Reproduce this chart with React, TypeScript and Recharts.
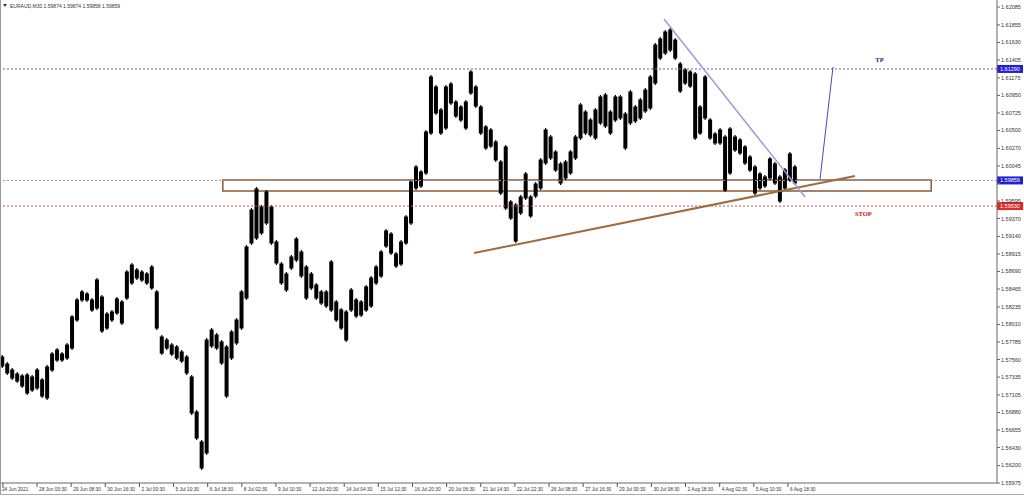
import {
  ComposedChart,
  Bar,
  XAxis,
  YAxis,
  ReferenceLine,
  ReferenceArea,
  ReferenceDot,
} from "recharts";

// EURAUD M30, one entry per ~9 bars (5 px bucket): high / low
const highs = [
  1.57618, 1.57528, 1.57451, 1.574, 1.57374, 1.57387, 1.57362, 1.57451, 1.57323, 1.5749,
  1.57657, 1.57708, 1.57657, 1.57772, 1.58132, 1.5835, 1.58453, 1.58427, 1.5835, 1.58607,
  1.58388, 1.5817, 1.58196, 1.58363, 1.58324, 1.58709, 1.58799, 1.58735, 1.58709, 1.58684,
  1.58773, 1.58453, 1.57875, 1.57836, 1.57772, 1.57747, 1.57682, 1.57618, 1.57362, 1.56912,
  1.56527, 1.57836, 1.57965, 1.57901, 1.57811, 1.57747, 1.57939, 1.58093, 1.58453, 1.5903,
  1.59505, 1.59775, 1.59544, 1.59736, 1.59544, 1.59094, 1.58812, 1.58684, 1.58902, 1.59133,
  1.58966, 1.58773, 1.58684, 1.58542, 1.58453, 1.58453, 1.58838, 1.58324, 1.58222, 1.58196,
  1.58478, 1.5835, 1.58324, 1.58517, 1.58632, 1.58773, 1.58966, 1.59236, 1.59197, 1.5894,
  1.59094, 1.59415, 1.59865, 1.60057, 1.59993, 1.60506, 1.61212, 1.61084, 1.60789, 1.61084,
  1.61122, 1.60891, 1.60827, 1.60891, 1.61277, 1.61084, 1.60827, 1.60571, 1.60532, 1.60378,
  1.60121, 1.60314, 1.59608, 1.59569, 1.59672, 1.59967, 1.59672, 1.59839, 1.60147, 1.60532,
  1.60442, 1.6025, 1.60096, 1.60121, 1.6025, 1.60442, 1.60853, 1.60763, 1.6066, 1.60789,
  1.60956, 1.60981, 1.60763, 1.60956, 1.60956, 1.60737, 1.6102, 1.60827, 1.60917, 1.61045,
  1.61212, 1.61623, 1.617, 1.6179, 1.61816, 1.61687, 1.61379, 1.61302, 1.61277, 1.61251,
  1.60827, 1.61212, 1.6066, 1.60481, 1.60532, 1.60442, 1.60545, 1.60442, 1.60404, 1.60314,
  1.60185, 1.60057, 1.59967, 1.59929, 1.6016, 1.60096, 1.59929, 1.60019, 1.60224, 1.60057,
];
const lows = [
  1.57451, 1.57362, 1.57297, 1.57259, 1.57195, 1.57105, 1.57143, 1.57169, 1.57066, 1.57041,
  1.574, 1.57528, 1.57528, 1.57554, 1.57682, 1.58042, 1.58299, 1.58299, 1.5817, 1.58196,
  1.57901, 1.57939, 1.58042, 1.58132, 1.58003, 1.58324, 1.58517, 1.58581, 1.58555, 1.58517,
  1.58453, 1.57939, 1.57618, 1.57682, 1.57605, 1.57554, 1.57516, 1.57362, 1.56848, 1.56527,
  1.56142, 1.56335, 1.57708, 1.57682, 1.5749, 1.57066, 1.57554, 1.57747, 1.57939, 1.58324,
  1.5903, 1.59094, 1.59159, 1.59287, 1.5903, 1.58773, 1.58517, 1.58427, 1.58709, 1.58812,
  1.58607, 1.58324, 1.58453, 1.58324, 1.5826, 1.58222, 1.5817, 1.58042, 1.57939, 1.57785,
  1.5817, 1.58093, 1.58106, 1.5817, 1.58222, 1.58517, 1.58607, 1.58992, 1.58902, 1.58735,
  1.58761, 1.5903, 1.59287, 1.59736, 1.59762, 1.59929, 1.60442, 1.60699, 1.60442, 1.60506,
  1.60827, 1.6066, 1.60609, 1.60506, 1.60956, 1.60789, 1.60442, 1.6025, 1.60275, 1.60096,
  1.59672, 1.59479, 1.59351, 1.59056, 1.59416, 1.59608, 1.59377, 1.59634, 1.59736, 1.60057,
  1.60121, 1.59967, 1.598, 1.59865, 1.59929, 1.60121, 1.60378, 1.60442, 1.60417, 1.60378,
  1.60571, 1.60532, 1.60442, 1.60609, 1.60635, 1.6025, 1.60571, 1.60596, 1.60635, 1.60725,
  1.60763, 1.61084, 1.61405, 1.61469, 1.61508, 1.61405, 1.60981, 1.61084, 1.61045, 1.60378,
  1.60442, 1.60635, 1.60378, 1.60314, 1.60314, 1.5971, 1.59929, 1.60224, 1.60185, 1.60057,
  1.59967, 1.59672, 1.59736, 1.59762, 1.59865, 1.598, 1.59569, 1.59736, 1.59839, 1.598,
];

const timeLabels = [
  "24 Jun 2021", "28 Jun 00:30", "29 Jun 08:30", "30 Jun 16:30", "2 Jul 00:30",
  "5 Jul 10:30", "6 Jul 18:30", "8 Jul 02:30", "9 Jul 10:30", "12 Jul 20:30",
  "14 Jul 04:30", "15 Jul 12:30", "16 Jul 20:30", "20 Jul 06:30", "21 Jul 14:30",
  "22 Jul 22:30", "26 Jul 08:30", "27 Jul 16:30", "29 Jul 00:30", "30 Jul 08:30",
  "2 Aug 18:30", "4 Aug 02:30", "5 Aug 10:30", "6 Aug 18:30",
];

const priceTicks = [
  1.62085, 1.61855, 1.6163, 1.61405, 1.61175, 1.6095, 1.60725, 1.605, 1.6027, 1.60045,
  1.5982, 1.59595, 1.5937, 1.5914, 1.58915, 1.5869, 1.58465, 1.58235, 1.5801, 1.57785,
  1.5756, 1.57335, 1.57105, 1.5688, 1.56655, 1.5643, 1.562, 1.55975,
];

const quote = [1.59874, 1.59874, 1.59858, 1.59859];
const PRICE_NOW = 1.59859;
const TP_PRICE = 1.6129;
const STOP_PRICE = 1.5953;

// drawn objects, in (bucket, price)
const zone = { x1: 44.7, x2: 186.8, top: 1.59864, bottom: 1.59723 };
const supportLine = [
  { x: 95.1, y: 1.58927 },
  { x: 171.5, y: 1.59916 },
];
const resistLine = [
  { x: 133.2, y: 1.61931 },
  { x: 161.5, y: 1.59646 },
];
const targetPath = [
  { x: 164.5, y: 1.59877 },
  { x: 167.1, y: 1.61315 },
];
const tpText = { x: 175.6, y: 1.61385 };
const stopText = { x: 171.5, y: 1.59405 };

const BARS_PER_LABEL = 6.847;

const data = highs.map((h, i) => ({ t: i + 0.5, range: [lows[i], h] }));
const timeTicks = timeLabels.map((_, j) => 0.58 + j * BARS_PER_LABEL);
const tagPrices = [PRICE_NOW, TP_PRICE];

const FONT = "'Liberation Sans', Arial, sans-serif";

function TimeTick({ x, y, index }: any) {
  return (
    <g>
      <line x1={x} y1={y} x2={x} y2={y + 4} stroke="#555" />
      <text
        x={index === 0 ? x - 1 : x + 2}
        y={y + 8}
        fontSize={4.8}
        fontFamily={FONT}
        fill="#333"
      >
        {timeLabels[index]}
      </text>
    </g>
  );
}

// price labels hidden under the blue tags are not drawn
function PriceTick({ x, y, payload }: any) {
  const hidden = tagPrices.some((p) => Math.abs(p - payload.value) < 0.0005);
  if (hidden) return null;
  return (
    <text x={x} y={y + 2} fontSize={5.5} fontFamily={FONT} fill="#333">
      {payload.value.toFixed(5)}
    </text>
  );
}

function PriceTag({ viewBox, price, color }: any) {
  if (!viewBox) return null;
  const x = viewBox.x + viewBox.width;
  return (
    <g>
      <rect x={x} y={viewBox.y - 4} width={26} height={8} fill={color} />
      <text
        x={x + 3}
        y={viewBox.y + 2}
        fontSize={5.5}
        fontFamily={FONT}
        fill="#fff"
      >
        {price.toFixed(5)}
      </text>
    </g>
  );
}

// one stroke per bucket, like squeezed M30 candles
function CandleStroke({ x, y, width, height }: any) {
  if (height == null) return null;
  const cx = x + width / 2;
  return (
    <g>
      <rect x={cx - 2} y={y + 1.5} width={4} height={Math.max(height - 3, 1)} fill="#000" />
      <line x1={cx} y1={y} x2={cx} y2={y + height} stroke="#000" strokeWidth={1.2} />
    </g>
  );
}

export default function App() {
  return (
    <div style={{ position: "relative", width: 1024, height: 498, background: "#fff" }}>
      <style>{"body{margin:0}"}</style>
      <ComposedChart
        width={1024}
        height={494}
        data={data}
        margin={{ top: 0, right: 0, left: 0, bottom: 0 }}
      >
        <XAxis
          dataKey="t"
          type="number"
          domain={[0, 200]}
          ticks={timeTicks}
          interval={0}
          height={11}
          tickSize={0}
          tickMargin={0}
          tick={<TimeTick />}
          axisLine={{ stroke: "#666" }}
        />
        <YAxis
          orientation="right"
          type="number"
          domain={[1.55975, 1.62175]}
          allowDataOverflow
          ticks={priceTicks}
          interval={0}
          width={27}
          tickSize={3}
          tickMargin={1}
          tick={<PriceTick />}
          axisLine={{ stroke: "#666" }}
          tickLine={{ stroke: "#666" }}
        />
        <ReferenceArea
          x1={zone.x1}
          x2={zone.x2}
          y1={zone.bottom}
          y2={zone.top}
          fill="none"
          stroke="#8a5a3a"
          strokeWidth={1.5}
          ifOverflow="visible"
        />
        <ReferenceLine
          y={TP_PRICE}
          stroke="#666680"
          strokeDasharray="2 2"
          label={<PriceTag price={TP_PRICE} color="#2020d0" />}
        />
        <ReferenceLine
          y={PRICE_NOW}
          stroke="#999"
          strokeDasharray="2 2"
          label={<PriceTag price={PRICE_NOW} color="#2020d0" />}
        />
        <ReferenceLine
          y={STOP_PRICE}
          stroke="#c05050"
          strokeDasharray="2 2"
          label={<PriceTag price={STOP_PRICE} color="#e02828" />}
        />
        <Bar
          dataKey="range"
          fill="#000"
          barSize={5}
          shape={<CandleStroke />}
          isAnimationActive={false}
        />
        <ReferenceLine
          segment={supportLine}
          stroke="#a06a3a"
          strokeWidth={2}
          ifOverflow="visible"
        />
        <ReferenceLine
          segment={resistLine}
          stroke="#9c9cd6"
          strokeWidth={1.5}
          ifOverflow="visible"
        />
        <ReferenceLine
          segment={targetPath}
          stroke="#4848c8"
          strokeWidth={1}
          ifOverflow="visible"
        />
        <ReferenceDot
          x={tpText.x}
          y={tpText.y}
          r={0}
          ifOverflow="visible"
          shape={(p: any) => (
            <text x={p.cx} y={p.cy} fontSize={6.5} fontWeight="bold" fontFamily="'Liberation Serif', serif" fill="#1a1a8a">
              TP
            </text>
          )}
        />
        <ReferenceDot
          x={stopText.x}
          y={stopText.y}
          r={0}
          ifOverflow="visible"
          shape={(p: any) => (
            <text x={p.cx} y={p.cy} fontSize={6.5} fontWeight="bold" fontFamily="'Liberation Serif', serif" fill="#d01010">
              STOP
            </text>
          )}
        />
      </ComposedChart>
      <svg
        width={200}
        height={12}
        style={{ position: "absolute", left: 0, top: 0 }}
      >
        <path d="M3 4 L7 4 L5 7 Z" fill="#333" />
        <text x={10} y={8} fontSize={5} fontFamily={FONT} fill="#333">
          {"EURAUD,M30  " + quote.map((q) => q.toFixed(5)).join(" ")}
        </text>
      </svg>
      <div style={{ position: "absolute", left: 0, top: 0, width: 1, height: 494, background: "#999" }} />
      <div style={{ position: "absolute", left: 0, top: 494, width: 1024, height: 1, background: "#aaa" }} />
    </div>
  );
}
